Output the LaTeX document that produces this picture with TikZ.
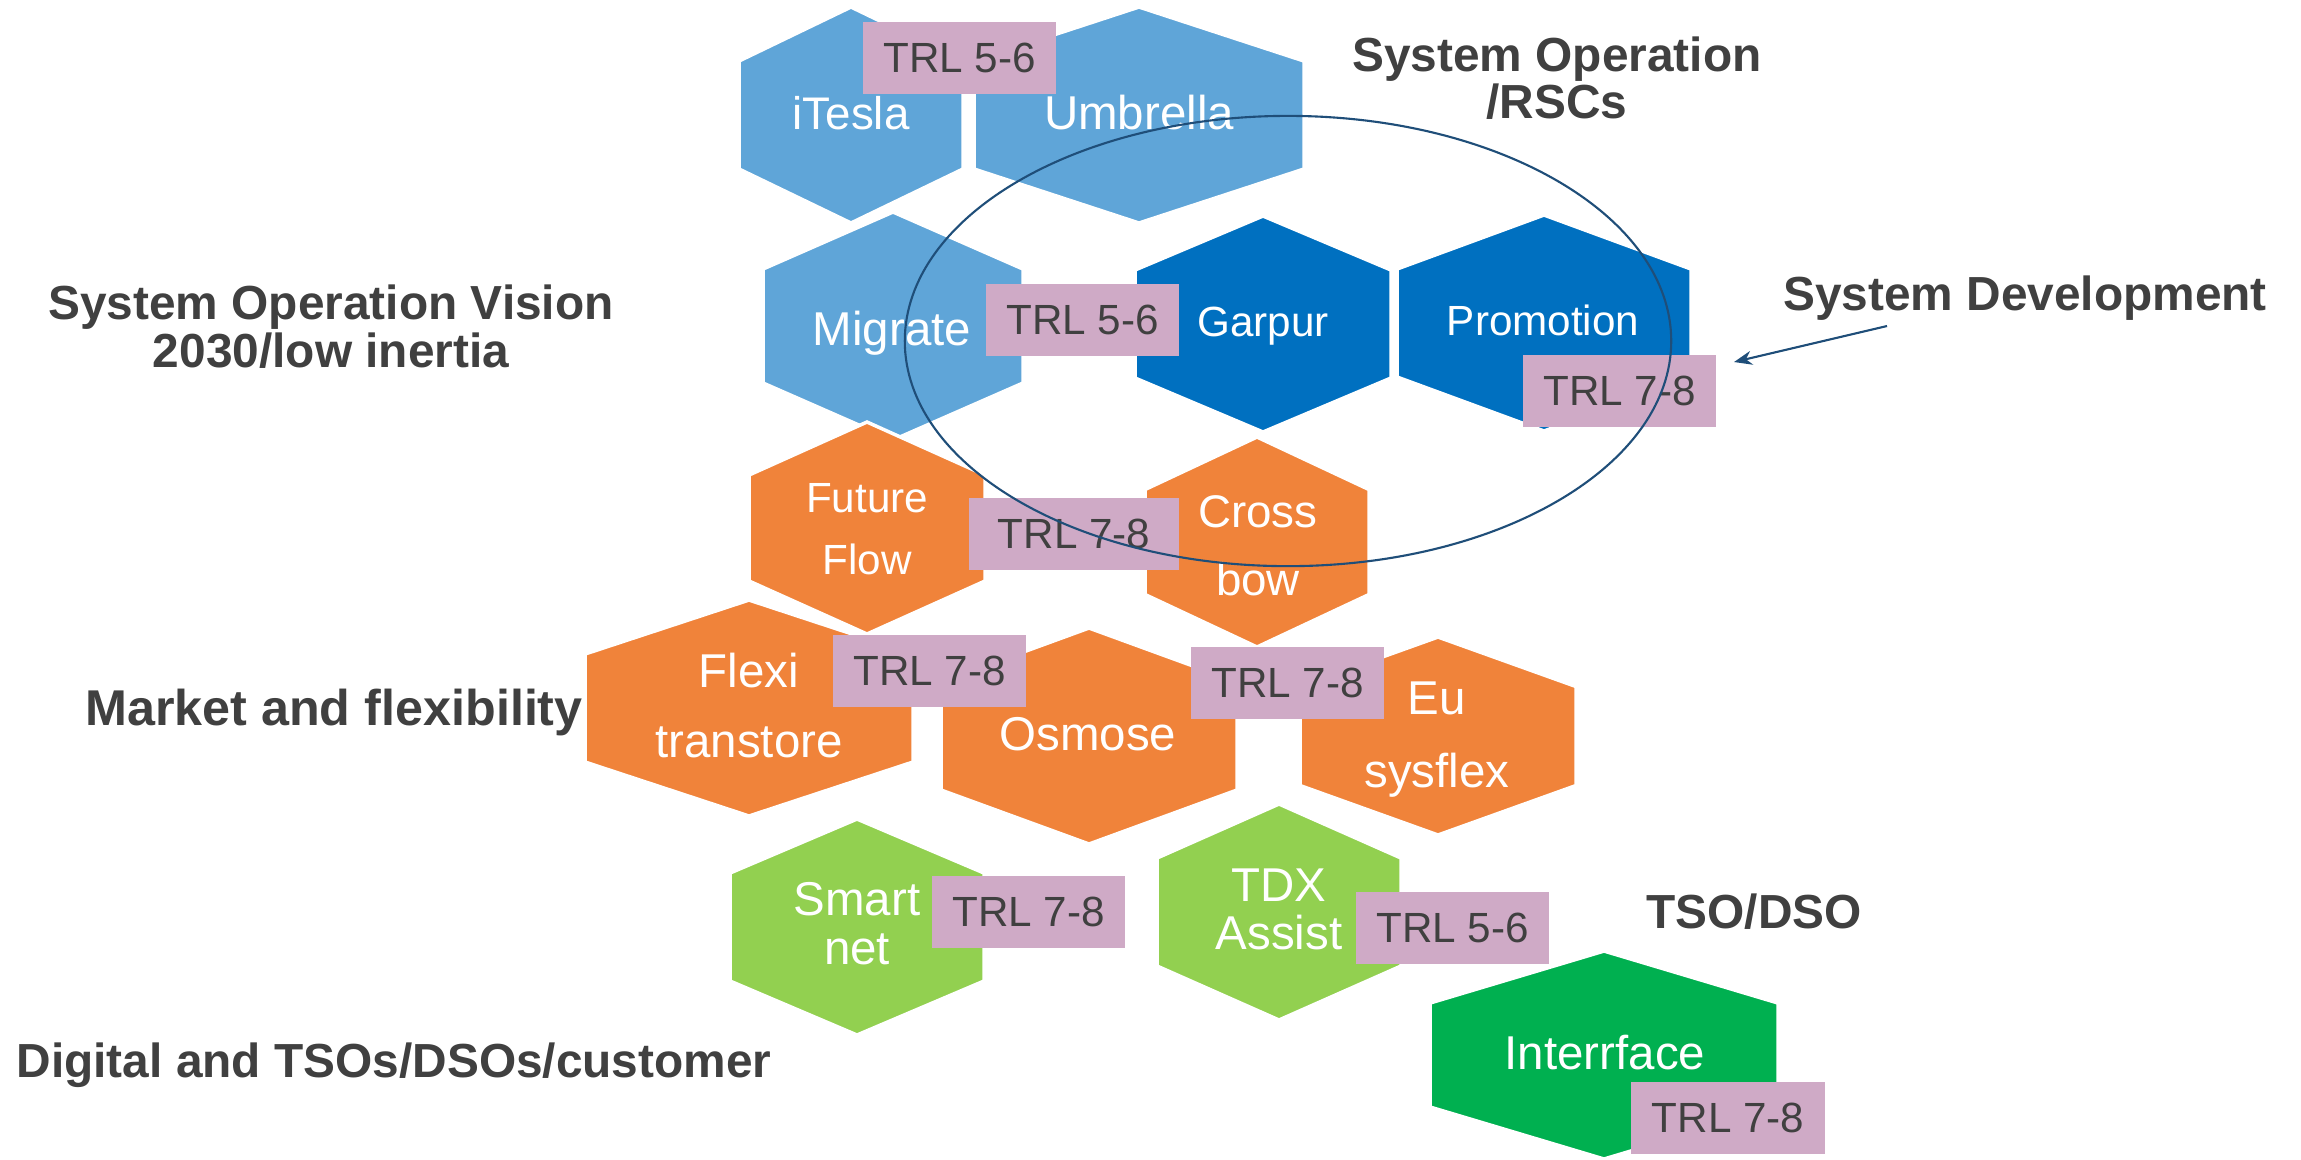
\documentclass[tikz,border=0pt]{standalone}
\usepackage{fontspec}
\setmainfont{Liberation Sans}
\usepackage{tikz}
\usetikzlibrary{shapes.geometric,arrows.meta}

\definecolor{paleblue}{HTML}{5FA5D8}
\definecolor{deepblue}{HTML}{0070C0}
\definecolor{carrot}{HTML}{F0833A}
\definecolor{lime}{HTML}{92D050}
\definecolor{leaf}{HTML}{00B050}
\definecolor{mauve}{HTML}{CFAAC6}
\definecolor{ink}{HTML}{404040}
\definecolor{ringblue}{HTML}{1F4E79}

% centre x, centre y, half width, half height, colour
\newcommand{\hexa}[5]{%
  \filldraw[hexcell, fill=#5] ({#1},{#2-#4}) -- ({#1+#3},{#2-#4/2}) -- ({#1+#3},{#2+#4/2})
    -- ({#1},{#2+#4}) -- ({#1-#3},{#2+#4/2}) -- ({#1-#3},{#2-#4/2}) -- cycle;}

\begin{document}
\begin{tikzpicture}[x=0.01cm, y=-0.01cm,
    hexcell/.style={draw=white, line width=1pt},
    hexname/.style={text=white, inner sep=0pt, align=center, anchor=base, font=\fontsize{13.5}{#1}\selectfont},
    hexname/.default=16pt,
    trl/.style={fill=mauve, text=ink, minimum width=1.93cm, minimum height=0.72cm, inner sep=0pt, font=\fontsize{12}{14}\selectfont},
    theme/.style={text=ink, inner sep=0pt, align=center, anchor=base, font=\fontsize{13.6}{13.4}\selectfont\bfseries}]

    \useasboundingbox (0,0) rectangle (2301,1159);
    \fill[white] (0,0) rectangle (2301,1159);

    % cellules
    \hexa{851}{115}{112}{108}{paleblue}
    \hexa{1139}{115}{165}{108}{paleblue}
    \hexa{893}{326}{130}{114}{paleblue}
    \hexa{1263}{324}{128}{108}{deepblue}
    \hexa{1544}{323}{147}{108}{deepblue}
    \hexa{867}{528}{118}{106}{carrot}
    \hexa{1257}{542}{112}{105}{carrot}
    \hexa{749}{708}{164}{108}{carrot}
    \hexa{1089}{736}{148}{108}{carrot}
    \hexa{1438}{736}{138}{99}{carrot}
    \hexa{857}{927}{127}{108}{lime}
    \hexa{1279}{912}{122}{108}{lime}
    \hexa{1604}{1055}{174}{104}{leaf}

    \node[hexname, font=\fontsize{13}{16}\selectfont] (itesla) at (851, 129) {iTesla};
    \node[hexname] (umbrella) at (1139, 129) {Umbrella};
    \node[hexname] (migrate) at (892, 345) {Migrate};
    \node[hexname, font=\fontsize{12}{14}\selectfont] (garpur) at (1263, 336) {Garpur};
    \node[hexname, font=\fontsize{12}{14}\selectfont] (promotion) at (1543, 335) {Promotion};
    \node[hexname, font=\fontsize{12}{17.6}\selectfont] (futureflow) at (867, 574) {Future\\Flow};
    \node[hexname=19.3pt, font=\fontsize{13}{19.3}\selectfont] (crossbow) at (1258, 595) {Cross\\bow};
    \node[hexname=19.9pt] (flexi) at (749, 757) {Flexi\\transtore};
    \node[hexname] (osmose) at (1088, 750) {Osmose};
    \node[hexname=20.5pt] (eusysflex) at (1437, 787) {Eu\\sysflex};
    \node[hexname=13.7pt] (smartnet) at (857, 964) {Smart\\net};
    \node[hexname=13.4pt] (tdxassist) at (1279, 949) {TDX\\Assist};
    \node[hexname] (interrface) at (1605, 1069) {Interrface};

    % niveaux TRL
    \node[trl] (trltop) at (959.5, 58) {TRL 5-6};
    \node[trl] (trlmigrate) at (1082.5, 320) {TRL 5-6};
    \node[trl] (trlpromo) at (1619.5, 391) {TRL 7-8};
    \node[trl, minimum width=2.1cm] (trlflow) at (1074, 534) {TRL 7-8\hspace{0.2cm}};
    \node[trl] (trlflexi) at (929.5, 671) {TRL 7-8};
    \node[trl] (trlosmose) at (1287.5, 683) {TRL 7-8};
    \node[trl] (trlsmart) at (1028.5, 912) {TRL 7-8};
    \node[trl] (trltdx) at (1452.5, 927.5) {TRL 5-6};
    \node[trl] (trlinter) at (1728, 1117.5) {TRL 7-8};

    \node[ellipse, draw=ringblue, line width=0.6pt, minimum width=7.66cm, minimum height=4.5cm, inner sep=0pt] (rscring) at (1288, 341) {};

    \node[theme] (vision) at (331, 367) {System Operation Vision\\2030/low inertia};
    \node[theme, font=\fontsize{13.6}{13.1}\selectfont\bfseries] (rscs) at (1557, 118) {System Operation\\/RSCs};
    \node[theme, font=\fontsize{14.3}{14}\selectfont\bfseries] (market) at (334, 725) {Market and flexibility};
    \node[theme] (digital) at (394, 1077) {Digital and TSOs/DSOs/customer};
    \node[theme] (sysdev) at (2025, 310) {System Development};
    \node[theme] (tsodso) at (1754, 928) {TSO/DSO};

    \coordinate (devtail) at (1887, 326);
    \coordinate (devhead) at (1734, 362);
    \draw[ringblue, line width=0.6pt, -{Stealth[length=1.8mm, width=1.4mm]}] (devtail) -- (devhead);

\end{tikzpicture}
\end{document}
